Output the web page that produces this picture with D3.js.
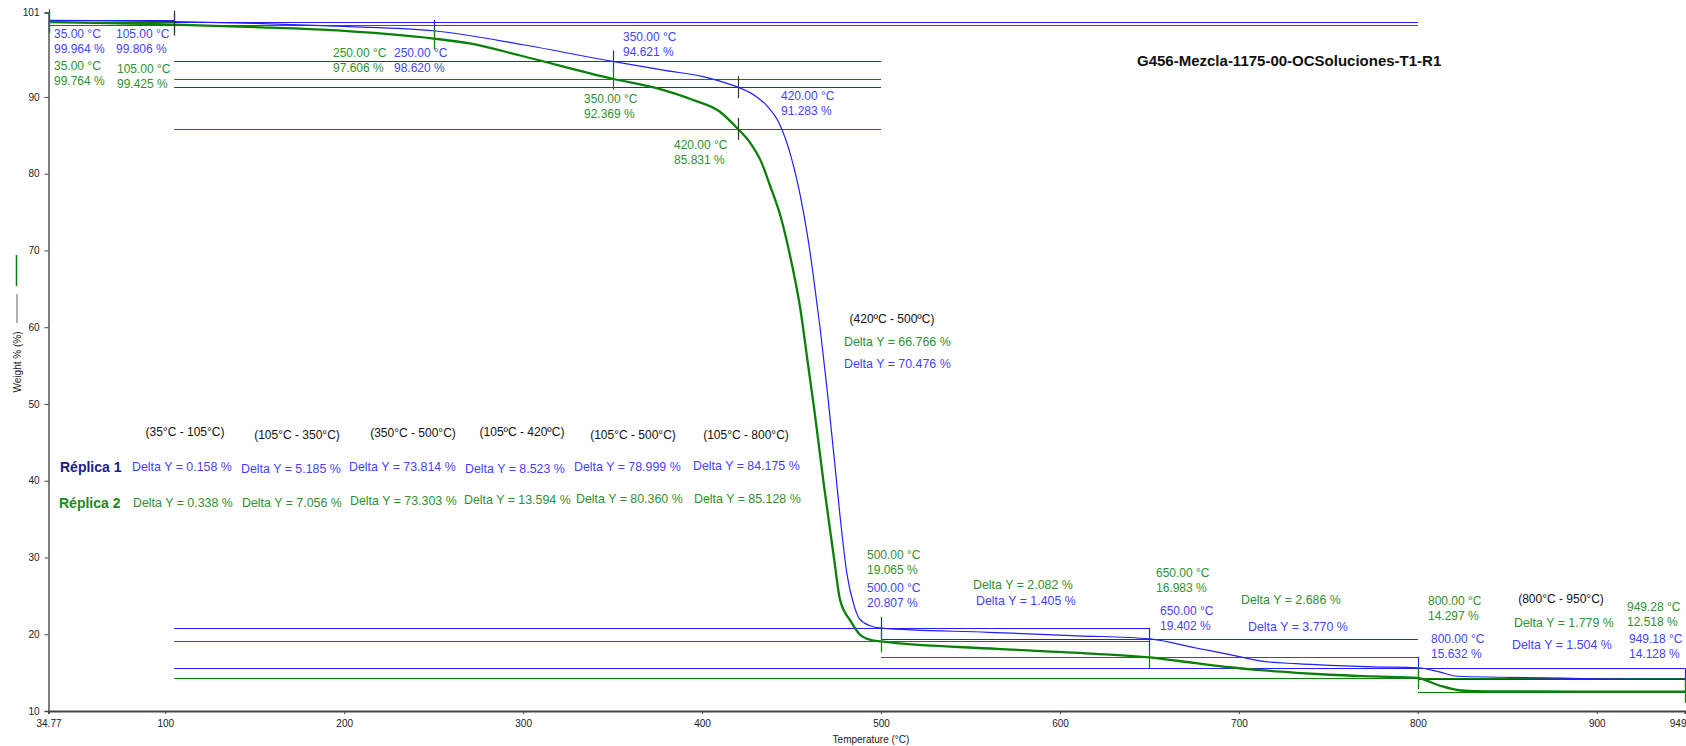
<!DOCTYPE html>
<html>
<head>
<meta charset="utf-8">
<script src="https://cdn.jsdelivr.net/npm/d3@7"></script>
<style>
  body { margin: 0; background: #fff; }
  svg text { font-family: Arial, "Liberation Sans", sans-serif; }
</style>
</head>
<body>
<div id="chart"></div>
<script>
// TGA curves (temperature °C, weight %)
const R1_TEMPS = [35, 60, 80, 105, 150, 200, 250, 300, 350, 380, 400, 410, 420, 430, 436, 443, 449, 455, 459, 462, 466, 470, 474, 477, 481, 485, 488, 494, 500, 560, 610, 650, 676, 695, 714, 732, 751, 775, 800, 812, 822, 846, 881, 910, 949.18];
const R1_WEIGHTS = [99.964, 99.93, 99.88, 99.806, 99.58, 99.18, 98.62, 96.8, 94.621, 93.42, 92.68, 92.05, 91.283, 90.1, 88.9, 86.6, 82.8, 77.0, 71.8, 67.0, 59.8, 51.6, 42.6, 35.6, 27.8, 23.7, 22.0, 21.1, 20.807, 20.25, 19.8, 19.402, 18.21, 17.34, 16.46, 16.16, 15.94, 15.75, 15.632, 15.1, 14.53, 14.40, 14.27, 14.16, 14.128];

const R2_TEMPS = [35, 60, 80, 105, 150, 200, 250, 270, 300, 350, 373, 395, 410, 420, 427, 433, 438, 444, 449, 455, 459, 463, 468, 474, 477, 483, 488, 494, 500, 565, 620, 650, 676, 695, 714, 732, 751, 775, 800, 812, 824, 839, 949.28];
const R2_WEIGHTS = [99.764, 99.66, 99.57, 99.425, 99.1, 98.6, 97.606, 96.98, 95.3, 92.369, 91.25, 89.6, 88.07, 85.831, 83.99, 81.57, 78.43, 74.33, 69.5, 62.26, 55.5, 48.74, 39.57, 29.42, 24.6, 21.7, 20.0, 19.28, 19.065, 18.1, 17.45, 16.983, 16.23, 15.70, 15.28, 14.98, 14.72, 14.5, 14.297, 13.32, 12.67, 12.55, 12.518];

// analysis points
const R1_POINT_T = [35, 105, 250, 350, 420, 500, 650, 800, 949.18];
const R1_POINT_W = [99.964, 99.806, 98.620, 94.621, 91.283, 20.807, 19.402, 15.632, 14.128];
const R2_POINT_T = [35, 105, 250, 350, 420, 500, 650, 800, 949.28];
const R2_POINT_W = [99.764, 99.425, 97.606, 92.369, 85.831, 19.065, 16.983, 14.297, 12.518];

// step analyses (from, to) and their delta Y
const STEP_FROM = [35, 105, 350, 105, 105, 105, 420, 500, 650, 800];
const STEP_TO = [105, 350, 500, 420, 500, 800, 500, 650, 800, 950];
const STEP_NAMES = ["(35°C - 105°C)", "(105°C - 350°C)", "(350°C - 500°C)", "(105ºC - 420ºC)", "(105°C - 500°C)", "(105°C - 800°C)", "(420ºC - 500ºC)", "", "", "(800°C - 950°C)"];
const R1_DELTA = [0.158, 5.185, 73.814, 8.523, 78.999, 84.175, 70.476, 1.405, 3.770, 1.504];
const R2_DELTA = [0.338, 7.056, 73.303, 13.594, 80.360, 85.128, 66.766, 2.082, 2.686, 1.779];

const X_TICKS = [34.77, 100, 200, 300, 400, 500, 600, 700, 800, 900, 949.28];
const X_TICK_LABELS = ["34.77", "100", "200", "300", "400", "500", "600", "700", "800", "900", "949"];
const Y_TICKS = [10, 20, 30, 40, 50, 60, 70, 80, 90, 101];

const TITLE = "G456-Mezcla-1175-00-OCSoluciones-T1-R1";

// ---- layout of the annotation text (pixels) ----
const stepNamePos = [[185, 432], [297, 435], [413, 433], [522, 432], [633, 435], [746, 435], [892, 319], null, null, [1561, 599]];
const r1DeltaPos = [[132, 467], [241, 469], [349, 467], [465, 469], [574, 467], [693, 466], [844, 364], [976, 601], [1248, 627], [1512, 645]];
const r2DeltaPos = [[133, 503], [242, 503], [350, 501], [464, 500], [576, 499], [694, 499], [844, 342], [973, 585], [1241, 600], [1514, 623]];
const r1PointPos = [[54, 34], [116, 34], [394, 53], [623, 37], [781, 96], [867, 588], [1160, 611], [1431, 639], [1629, 639]];
const r2PointPos = [[54, 66], [117, 69], [333, 53], [584, 99], [674, 145], [867, 555], [1156, 573], [1428, 601], [1627, 607]];

const width = 1686;
const height = 746;

const BLUE = "#1f1fff";
const BLUE_TXT = "#4343ff";
const GREEN = "#0a800a";
const GREEN_TXT = "#2f902f";

var svg = d3.select("#chart").append("svg")
    .attr("width", width)
    .attr("height", height);

var x = d3.scaleLinear().domain([34.77, 949.28]).range([48.5, 1685]);
var y = d3.scaleLinear().domain([10, 101]).range([711, 12.5]);

var replicas = [
  {temps: R1_TEMPS, weights: R1_WEIGHTS, pt: R1_POINT_T, pw: R1_POINT_W, delta: R1_DELTA,
   color: BLUE, txt: BLUE_TXT, width: 1.2, deltaPos: r1DeltaPos, pointPos: r1PointPos},
  {temps: R2_TEMPS, weights: R2_WEIGHTS, pt: R2_POINT_T, pw: R2_POINT_W, delta: R2_DELTA,
   color: GREEN, txt: GREEN_TXT, width: 2.3, deltaPos: r2DeltaPos, pointPos: r2PointPos}
];

function levelAt(rep, t) {
  // 950 is the end of the run, use the last point
  var i = rep.pt.indexOf(t);
  if (i < 0) i = rep.pt.length - 1;
  return {t: rep.pt[i], w: rep.pw[i]};
}

// step lines: start and end level drawn across the range
replicas.forEach(function(rep) {
  var g = svg.append("g").attr("class", "steps");
  STEP_FROM.forEach(function(t0, k) {
    var a = levelAt(rep, t0), b = levelAt(rep, STEP_TO[k]);
    [a.w, b.w].forEach(function(w) {
      g.append("line")
        .attr("x1", x(a.t)).attr("x2", x(b.t))
        .attr("y1", Math.round(y(w)) + 0.5).attr("y2", Math.round(y(w)) + 0.5)
        .attr("stroke", rep.color)
        .attr("stroke-width", 1.2);
    });
  });
});

// axes
var xAxis = d3.axisBottom(x).tickValues(X_TICKS)
    .tickFormat(function(d, i) { return X_TICK_LABELS[i]; })
    .tickSize(3).tickPadding(6);
var gx = svg.append("g")
    .attr("transform", "translate(0,711)")
    .call(xAxis);
gx.select(".domain").attr("stroke", "#444").attr("stroke-width", 2);
gx.selectAll(".tick line").attr("stroke", "#444");
gx.selectAll("text").style("font-size", "10px").attr("fill", "#222");
// last label sits on the page edge, keep it inside
gx.selectAll(".tick text").filter(function(d, i) { return i === X_TICKS.length - 1; })
    .attr("text-anchor", "end").attr("x", 1);

var yAxis = d3.axisLeft(y).tickValues(Y_TICKS).tickSize(4).tickPadding(5);
var gy = svg.append("g")
    .attr("transform", "translate(48.5,0)")
    .call(yAxis);
gy.select(".domain").attr("stroke", "#555").attr("stroke-width", 1.5);
gy.selectAll(".tick line").attr("stroke", "#444");
gy.selectAll("text").style("font-size", "10px").attr("fill", "#222");

svg.append("text")
    .attr("x", 871).attr("y", 743)
    .attr("text-anchor", "middle")
    .style("font-size", "10px")
    .attr("fill", "#222")
    .text("Temperature (°C)");

// y label with the little line legend
svg.append("text")
    .attr("transform", "translate(21,362) rotate(-90)")
    .attr("text-anchor", "middle")
    .style("font-size", "10px")
    .attr("fill", "#222")
    .text("Weight % (%)");
svg.append("line").attr("x1", 17).attr("x2", 17).attr("y1", 294).attr("y2", 323)
    .attr("stroke", "#666").attr("stroke-width", 1);
svg.append("line").attr("x1", 16.5).attr("x2", 16.5).attr("y1", 255).attr("y2", 286)
    .attr("stroke", GREEN).attr("stroke-width", 1.5);

// curves
var line = d3.line()
    .x(function(d) { return x(d[0]); })
    .y(function(d) { return y(d[1]); })
    .curve(d3.curveMonotoneX);

replicas.forEach(function(rep) {
  svg.append("path")
      .datum(rep.temps.map(function(t, i) { return [t, rep.weights[i]]; }))
      .attr("fill", "none")
      .attr("stroke", rep.color)
      .attr("stroke-width", rep.width)
      .attr("d", line);
});

// point markers, 105 and 420 are drawn black
replicas.forEach(function(rep) {
  rep.pt.forEach(function(t, i) {
    var cx = Math.round(x(t)) + 0.5, cy = y(rep.pw[i]);
    svg.append("line")
      .attr("x1", cx).attr("x2", cx)
      .attr("y1", cy - 11).attr("y2", cy + 11)
      .attr("stroke", (t === 105 || t === 420) ? "#333" : rep.color)
      .attr("stroke-width", 1.2);
  });
});

// point labels
replicas.forEach(function(rep) {
  rep.pt.forEach(function(t, i) {
    var p = rep.pointPos[i];
    var txt = svg.append("text")
      .attr("x", p[0]).attr("y", p[1])
      .attr("dy", "0.35em")
      .style("font-size", "12px")
      .attr("fill", rep.txt);
    txt.append("tspan").attr("x", p[0]).text(t.toFixed(2) + " °C");
    txt.append("tspan").attr("x", p[0]).attr("dy", 15).text(rep.pw[i].toFixed(3) + " %");
  });
});

// step names
STEP_NAMES.forEach(function(s, k) {
  if (!s) return;
  svg.append("text")
    .attr("x", stepNamePos[k][0]).attr("y", stepNamePos[k][1])
    .attr("dy", "0.35em")
    .attr("text-anchor", "middle")
    .style("font-size", "12px")
    .attr("fill", "#111")
    .text(s);
});

// delta labels
replicas.forEach(function(rep) {
  rep.delta.forEach(function(d, k) {
    svg.append("text")
      .attr("x", rep.deltaPos[k][0]).attr("y", rep.deltaPos[k][1])
      .attr("dy", "0.35em")
      .style("font-size", "12.4px")
      .attr("fill", rep.txt)
      .text("Delta Y = " + d.toFixed(3) + " %");
  });
});

svg.append("text")
    .attr("x", 60).attr("y", 467).attr("dy", "0.35em")
    .style("font-size", "14px").style("font-weight", "bold")
    .attr("fill", "#1c1c80")
    .text("Réplica 1");
svg.append("text")
    .attr("x", 59).attr("y", 503).attr("dy", "0.35em")
    .style("font-size", "14px").style("font-weight", "bold")
    .attr("fill", "#1d8a1d")
    .text("Réplica 2");

// title
svg.append("text")
    .attr("x", 1137).attr("y", 66)
    .style("font-size", "15px").style("font-weight", "bold")
    .attr("fill", "#111")
    .text(TITLE);
</script>
</body>
</html>
